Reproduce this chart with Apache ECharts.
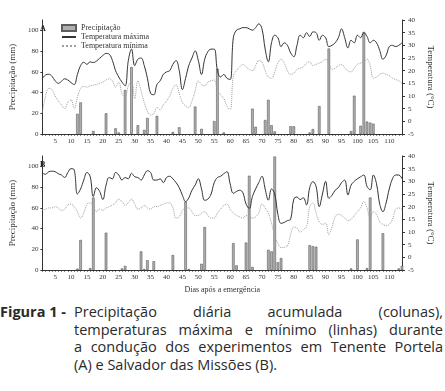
<!DOCTYPE html>
<html>
<head>
<meta charset="utf-8">
<script src="https://cdn.jsdelivr.net/npm/echarts@6/dist/echarts.min.js"></script>
<style>
  html, body { margin: 0; padding: 0; background: #fff; }
  #wrap { position: relative; width: 445px; height: 391px; overflow: hidden; }
  #grafico { position: absolute; left: 0; top: 0; width: 445px; height: 300px; }
  .legenda { position: absolute; left: 0; top: 303px; width: 445px; color: #2a2a2a;
    font-family: 'Open Sans', sans-serif; font-size: 14.5px; line-height: 17.5px; }
  .legenda .rotulo { position: absolute; left: 0; top: 0; font-weight: bold; }
  .legenda .texto { position: absolute; left: 74px; top: 0; width: 369px; }
  .legenda .j { text-align: justify; text-align-last: justify; white-space: nowrap; }
</style>
</head>
<body>
<div id="wrap">
  <div id="grafico"></div>
  <div class="legenda">
    <div class="rotulo">Figura 1 -</div>
    <div class="texto">
      <div class="j">Precipitação diária acumulada (colunas),</div>
      <div class="j">temperaturas máxima e mínimo (linhas) durante</div>
      <div class="j">a condução dos experimentos em Tenente Portela</div>
      <div>(A) e Salvador das Missões (B).</div>
    </div>
  </div>
</div>
<script>
  // rotulos do eixo x (dias apos a emergencia)
  const diasRotulo = [5, 10, 15, 20, 25, 30, 35, 40, 45, 50, 55, 60, 65, 70, 75, 80, 85, 90, 95, 100, 105, 110]
  const precRotulo = [0, 20, 40, 60, 80, 100]

  // A - Tenente Portela: temperaturas diarias (dia 1 a 114)
  const tmaxA = [17.0, 18.3, 18.6, 17.8, 16.0, 15.0, 15.8, 16.8, 16.3, 15.3,
    14.5, 18.5, 22.0, 23.3, 22.5, 23.5, 23.2, 23.8, 24.9, 26.0,
    26.8, 26.5, 24.0, 20.0, 17.5, 15.5, 14.0, 24.0, 28.5, 22.0,
    24.5, 25.0, 22.0, 17.0, 11.0, 10.5, 14.5, 16.0, 18.5, 19.5,
    20.0, 22.5, 24.0, 20.0, 12.5, 17.0, 22.0, 25.0, 27.8, 24.0,
    18.5, 24.5, 27.5, 28.5, 28.5, 20.0, 17.5, 18.5, 17.0, 16.5,
    33.0, 36.0, 36.5, 37.0, 37.0, 36.5, 36.0, 37.0, 38.5, 36.5,
    28.5, 23.5, 31.0, 34.0, 33.0, 29.5, 31.0, 30.0, 27.0, 25.5,
    30.0, 34.0, 33.0, 35.0, 33.5, 35.3, 35.0, 32.0, 34.0, 33.0,
    29.5, 30.0, 31.0, 33.0, 36.5, 33.0, 29.0, 32.0, 31.0, 34.0,
    33.0, 35.0, 33.5, 31.0, 32.0, 31.0, 28.0, 24.5, 26.0, 29.5,
    30.0, 29.5, 30.0, 31.0]
  const tminA = [3.5, 10.0, 13.0, 12.5, 10.0, 8.0, 6.5, 5.0, 7.5, 8.5,
    5.0, 9.5, 13.0, 13.8, 13.5, 14.0, 14.3, 14.5, 15.0, 15.5,
    16.3, 16.8, 16.0, 13.5, 15.5, 11.0, 9.5, 14.0, 15.5, 9.0,
    16.0, 12.0, 7.5, 4.0, 2.5, 3.0, 5.5, 4.5, 6.5, 8.0,
    10.0, 13.0, 14.5, 11.0, 7.5, 6.0, 5.5, 8.0, 12.0, 16.0,
    14.5, 14.0, 15.5, 16.0, 16.3, 12.5, 10.5, 9.0, 6.0, 4.5,
    18.0, 20.0, 21.5, 22.5, 21.5, 20.5, 20.0, 22.0, 24.0, 23.5,
    20.0, 17.5, 17.0, 19.5, 23.0, 24.5, 23.0, 20.0, 18.5, 19.0,
    20.5, 21.0, 21.5, 23.0, 23.5, 22.0, 22.5, 23.0, 23.5, 24.5,
    23.0, 20.5, 21.0, 22.0, 22.5, 21.0, 20.0, 19.5, 21.0, 22.5,
    23.0, 23.5, 24.5, 22.0, 17.0, 17.5, 18.5, 19.0, 18.5, 18.0,
    17.0, 16.5, 16.0, 15.0]
  // [dia, mm]
  const precA = [[12, 19.5], [13, 30.5], [17, 3], [21, 20], [24, 5.5], [25, 1.5],
    [27, 42.5], [29, 64.5], [31, 8.5], [33, 4], [34, 15.5], [37, 17.5],
    [42, 2], [44, 6.5], [49, 26.5], [51, 5], [55, 12.5], [56, 63], [58, 1.5],
    [67, 24.5], [68, 7], [71, 13.5], [72, 33], [73, 8.5], [74, 2.5],
    [79, 7.5], [80, 7.5], [85, 1.5], [86, 4.8], [88, 27], [91, 82.5],
    [98, 2.8], [99, 37], [101, 8], [102, 98.5], [103, 12], [104, 11], [105, 10]]

  // B - Salvador das Missoes
  const tmaxB = [33.2, 32.8, 33.8, 34.0, 33.8, 33.0, 32.5, 31.5, 33.5, 35.0,
    34.5, 25.0, 27.0, 30.5, 33.5, 32.0, 24.0, 27.5, 26.0, 22.8,
    28.5, 31.5, 31.0, 33.5, 32.5, 30.5, 31.5, 31.0, 33.2, 31.8,
    31.5, 30.5, 32.5, 34.2, 33.5, 30.5, 30.5, 31.0, 29.5, 31.5,
    32.0, 31.0, 29.5, 27.5, 24.5, 22.0, 23.5, 26.5, 28.5, 31.0,
    27.0, 22.5, 23.0, 25.0, 29.5, 31.5, 32.0, 33.0, 33.8, 29.0,
    25.3, 26.0, 26.5, 25.5, 21.0, 19.3, 24.0, 27.0, 29.5, 32.0,
    27.0, 22.6, 27.0, 25.0, 17.0, 13.4, 13.8, 14.5, 15.0, 23.0,
    23.8, 22.8, 23.5, 20.7, 27.5, 29.9, 28.0, 20.0, 25.0, 30.0,
    23.3, 24.5, 26.5, 27.5, 29.5, 30.5, 24.6, 28.5, 30.0, 31.0,
    31.8, 32.5, 28.0, 26.6, 32.5, 29.0, 21.0, 18.0, 21.5, 27.0,
    31.0, 32.5, 32.5, 31.0]
  const tminB = [18.7, 19.0, 19.5, 19.5, 20.0, 19.5, 18.5, 19.0, 20.7, 21.0,
    20.0, 18.0, 15.5, 17.5, 21.0, 21.5, 20.0, 18.0, 19.0, 18.5,
    19.5, 20.0, 20.7, 21.5, 23.0, 22.0, 20.5, 21.5, 23.0, 21.0,
    19.0, 19.5, 20.5, 19.5, 19.0, 20.0, 20.0, 20.5, 21.0, 21.5,
    21.5, 19.5, 15.5, 16.0, 18.5, 19.5, 19.5, 18.0, 16.5, 16.5,
    17.5, 18.0, 16.5, 15.5, 15.5, 17.5, 19.0, 20.5, 21.0, 19.0,
    17.5, 16.5, 16.0, 15.5, 16.5, 16.0, 15.5, 16.0, 17.5, 21.0,
    19.5, 17.5, 13.5, 8.5, 5.5, 3.8, 4.0, 4.5, 9.0, 12.0,
    11.5, 10.0, 11.0, 12.0, 20.0, 21.5, 17.5, 14.0, 13.0, 13.5,
    9.0, 12.0, 16.0, 17.0, 16.5, 15.5, 14.5, 15.0, 16.5, 18.0,
    19.5, 22.0, 19.5, 15.5, 18.0, 17.0, 14.0, 13.0, 12.5, 13.0,
    15.0, 19.0, 19.5, 19.0]
  const precB = [[12, 1.3], [13, 29], [16, 1.8], [17, 70], [21, 36], [26, 1.5], [27, 4],
    [32, 18], [33, 1], [34, 9.5], [36, 8.5], [42, 14.5], [46, 66], [47, 1],
    [51, 6], [52, 41.5], [61, 26], [62, 4.5], [65, 26.5], [66, 91], [67, 3],
    [72, 19.5], [73, 18], [74, 109.5], [75, 7.5], [76, 11.5],
    [85, 24], [86, 23], [87, 22.5], [98, 1.5], [100, 29.5], [103, 1.8],
    [104, 70], [108, 35.5], [113, 1.5], [114, 4]]

  const serif = 'Liberation Serif'
  const corEixo = '#333'
  let todosDias = []
  for (let d = 1; d <= 114; d++) todosDias.push(d)

  function porDia(arr) {
    return arr.map((v, i) => [i + 1, v])
  }

  function eixoX(idx, nome) {
    return {
      type: 'value', gridIndex: idx, min: 1, max: 114,
      name: nome, nameLocation: 'middle', nameGap: 16,
      nameTextStyle: {fontFamily: serif, fontSize: 8, color: corEixo},
      axisLine: {lineStyle: {color: corEixo, width: 1}},
      axisTick: {customValues: todosDias, length: 2, lineStyle: {color: corEixo, width: 0.6}},
      axisLabel: {customValues: diasRotulo, fontFamily: serif, fontSize: 7, color: corEixo, margin: 4},
      splitLine: {show: false}
    }
  }

  function eixosY(idx) {
    return [
      {
        type: 'value', gridIndex: idx, min: 0, max: 110, position: 'left',
        name: 'Precipitação (mm)', nameLocation: 'middle', nameGap: 21,
        nameTextStyle: {fontFamily: serif, fontSize: 9, color: corEixo},
        axisLine: {show: true, lineStyle: {color: corEixo, width: 1}},
        axisTick: {show: true, customValues: precRotulo, length: 2, lineStyle: {color: corEixo}},
        axisLabel: {customValues: precRotulo, fontFamily: serif, fontSize: 7, color: corEixo, margin: 4},
        splitLine: {show: false}
      },
      {
        type: 'value', gridIndex: idx, min: -5, max: 40, interval: 5, position: 'right',
        name: 'Temperatura (°C)', nameLocation: 'middle', nameGap: 21, nameRotate: -90,
        nameTextStyle: {fontFamily: serif, fontSize: 9, color: corEixo},
        axisLine: {show: true, lineStyle: {color: corEixo, width: 1}},
        axisTick: {show: true, length: 3, lineStyle: {color: corEixo}},
        axisLabel: {fontFamily: serif, fontSize: 7, color: corEixo, margin: 6},
        splitLine: {show: false}
      }
    ]
  }

  function series(idx, prec, tmax, tmin) {
    return [
      {
        name: 'Precipitação', type: 'bar', xAxisIndex: idx, yAxisIndex: idx * 2,
        barWidth: 2.6, data: prec,
        itemStyle: {color: '#b0b0b0', borderColor: '#5e5e5e', borderWidth: 0.6}
      },
      {
        name: 'Temperatura máxima', type: 'line', xAxisIndex: idx, yAxisIndex: idx * 2 + 1,
        smooth: 0.4, symbol: 'none', data: porDia(tmax),
        lineStyle: {color: '#333', width: 1}, itemStyle: {color: '#333'}
      },
      {
        name: 'Temperatura mínima', type: 'line', xAxisIndex: idx, yAxisIndex: idx * 2 + 1,
        smooth: 0.4, symbol: 'none', data: porDia(tmin),
        lineStyle: {color: '#a0a0a0', width: 1, type: 'dotted'}, itemStyle: {color: '#a0a0a0'}
      }
    ]
  }

  const chart = echarts.init(document.getElementById('grafico'), null, {renderer: 'canvas'})
  chart.setOption({
    animation: false,
    backgroundColor: '#fff',
    textStyle: {fontFamily: serif},
    legend: {
      left: 56, top: 19, orient: 'vertical',
      itemWidth: 14, itemHeight: 6, itemGap: 1,
      textStyle: {fontFamily: serif, fontSize: 8, color: corEixo, lineHeight: 7},
      data: [
        {name: 'Precipitação', icon: 'rect'},
        {name: 'Temperatura máxima', itemStyle: {opacity: 0}},
        {name: 'Temperatura mínima', itemStyle: {opacity: 0}}
      ]
    },
    graphic: [
      {type: 'text', left: 40, top: 25, style: {text: 'A', font: 'bold 8px Liberation Serif', fill: '#222'}},
      {type: 'text', left: 40, top: 161, style: {text: 'B', font: 'bold 8px Liberation Serif', fill: '#222'}}
    ],
    grid: [
      {left: 32, top: 20, width: 370, height: 114},
      {left: 32, top: 156, width: 370, height: 114}
    ],
    xAxis: [eixoX(0, ''), eixoX(1, 'Dias após a emergência')],
    yAxis: eixosY(0).concat(eixosY(1)),
    series: series(0, precA, tmaxA, tminA).concat(series(1, precB, tmaxB, tminB))
  })
</script>
</body>
</html>
